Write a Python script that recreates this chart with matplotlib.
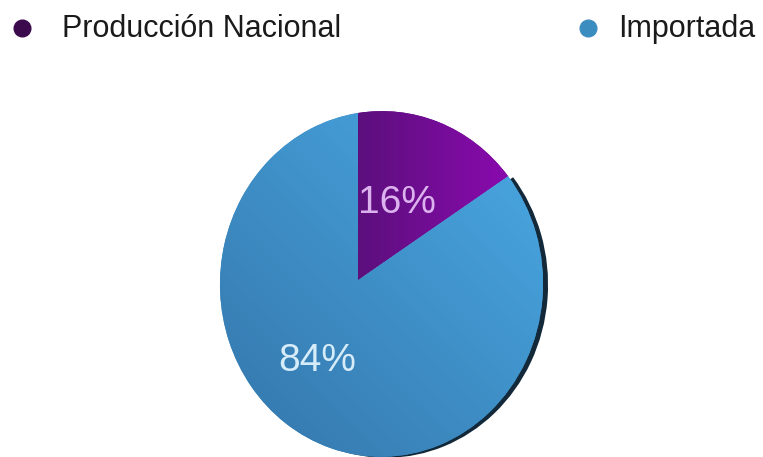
#!/usr/bin/env python
# Pie chart: Producción Nacional vs Importada, drawn with a slight perspective
import numpy as np
import matplotlib
matplotlib.use('Agg')
from matplotlib import pyplot as plt
from matplotlib import transforms as mtransforms

labels = ['Producción Nacional', 'Importada']
values = [16, 84]
legend_colors = ['#3b0a4d', '#3b8dc0']

W, H = 763, 457
plt.rcParams['font.family'] = ['Liberation Sans', 'DejaVu Sans']


# perspective map from the unit pie to picture pixels
def homography(src, dst):
    A, b = [], []
    for (x, y), (u, v) in zip(src, dst):
        A.append([x, y, 1, 0, 0, 0, -u * x, -u * y]); b.append(u)
        A.append([0, 0, 0, x, y, 1, -v * x, -v * y]); b.append(v)
    h = np.linalg.solve(np.array(A, float), np.array(b, float))
    return np.append(h, 1).reshape(3, 3)


class Persp(mtransforms.Transform):
    input_dims = output_dims = 2
    is_separable = False
    has_inverse = False

    def __init__(self, M):
        super().__init__()
        self.M = M

    def transform_non_affine(self, xy):
        xy = np.asarray(xy, float).reshape(-1, 2)
        p = np.c_[xy, np.ones(len(xy))] @ self.M.T
        return p[:, :2] / p[:, 2:3]


M = homography([(0, 1), (-1, 0), (1, 0), (0, -1)],
               [(358, 113), (220, 281), (543, 279), (358, 455)])

fig = plt.figure(figsize=(W / 100, H / 100), dpi=100)
ax = fig.add_axes([0, 0, 1, 1])

persp = Persp(M) + ax.transData
shadow_tr = persp + mtransforms.Affine2D().translate(5, -1)

# shadow copy (dark rim on the right)
sh, _ = ax.pie(values, colors=['none', '#13293a'], startangle=90,
               counterclock=False, radius=1.0)
for w in sh:
    w.set_transform(shadow_tr)
    w.set_zorder(1)

wedges, _, autotexts = ax.pie(values, colors=['#6c0e92', '#3d8cc4'], startangle=90,
                              counterclock=False, radius=1.0, autopct='%1.0f%%',
                              pctdistance=0.6,
                              textprops=dict(fontsize=28))
for w in wedges:
    w.set_transform(persp)
    w.set_zorder(2)
    w.set_linewidth(0)

# gradients clipped to the slices
yy, xx = np.mgrid[0:H, 0:W].astype(float)
t_blue = np.clip(((xx - 230) / 320) * 0.55 + ((400 - yy) / 260) * 0.45, 0, 1)
dark_b, light_b = np.array([0.21, 0.48, 0.69]), np.array([0.29, 0.66, 0.89])
img_b = dark_b + (light_b - dark_b) * t_blue[..., None]
t_pur = np.clip((xx - 358) / 150, 0, 1)
dark_p, light_p = np.array([0.36, 0.06, 0.49]), np.array([0.54, 0.04, 0.68])
img_p = dark_p + (light_p - dark_p) * t_pur[..., None]

for img, w in [(img_p, wedges[0]), (img_b, wedges[1])]:
    im = ax.imshow(img, extent=(0, W, H, 0), origin='upper', zorder=3,
                   interpolation='bilinear')
    im.set_clip_path(w)

# pull the percentages a bit toward the centre
for t, c, f in zip(autotexts, ['#dcb2ee', '#d6ecf8'], [0.5 / 0.6, 0.55 / 0.6]):
    x, y = t.get_position()
    t.set_position((x * f, y * f))
    t.set_transform(persp)
    t.set_color(c)
    t.set_zorder(5)

# legend row on top
ax.plot([22], [28], 'o', color=legend_colors[0], markersize=12, zorder=5)
ax.text(62, 29, labels[0], fontsize=22, va='center', ha='left', color='#1a1a1a')
ax.plot([588], [28], 'o', color=legend_colors[1], markersize=12, zorder=5)
ax.text(618, 29, labels[1], fontsize=22, va='center', ha='left', color='#1a1a1a')

ax.set_aspect('auto')
ax.set_xlim(0, W)
ax.set_ylim(H, 0)
ax.axis('off')

plt.savefig('out.png', dpi=100)
